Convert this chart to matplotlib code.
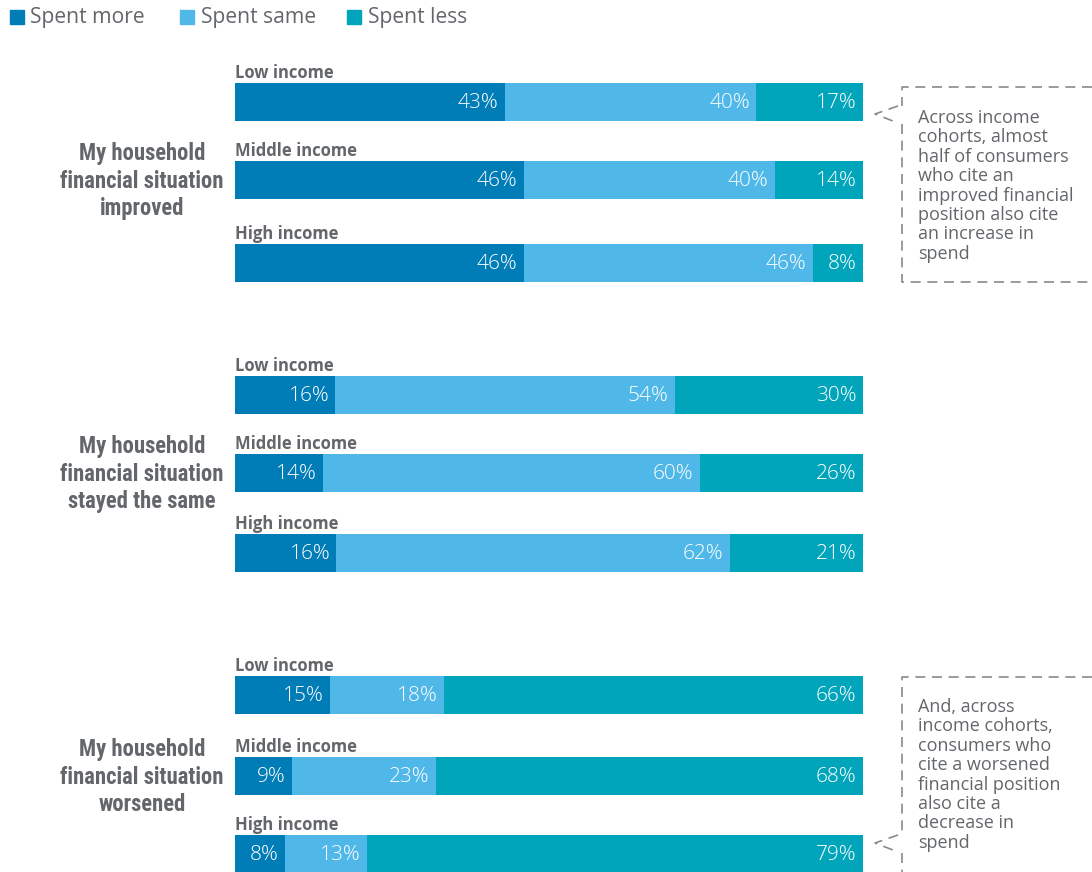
import matplotlib
matplotlib.use("Agg")
from matplotlib import pyplot as plt
from matplotlib.lines import Line2D
from matplotlib import font_manager
from matplotlib.font_manager import FontProperties

# data
groups = ["My household\nfinancial situation\nimproved",
          "My household\nfinancial situation\nstayed the same",
          "My household\nfinancial situation\nworsened"]
incomes = ["Low income", "Middle income", "High income"]
series = ["Spent more", "Spent same", "Spent less"]
spent_more = [43, 46, 46, 16, 14, 16, 15, 9, 8]
spent_same = [40, 40, 46, 54, 60, 62, 18, 23, 13]
spent_less = [17, 14, 8, 30, 26, 21, 66, 68, 79]
notes = ["Across income\ncohorts, almost\nhalf of consumers\nwho cite an\nimproved financial\nposition also cite\nan increase in\nspend",
         "And, across\nincome cohorts,\nconsumers who\ncite a worsened\nfinancial position\nalso cite a\ndecrease in\nspend"]

colors = ["#007cb7", "#4fb8e8", "#00a5bb"]
gray = "#63666a"

plt.rcParams['font.family'] = ['Open Sans', 'DejaVu Sans']

# look for a bold condensed face for the group labels
cond_fp = None
cands = []
for f in font_manager.fontManager.ttflist:
    fn = f.fname.lower()
    if ("condensed" in fn or "narrow" in fn) and "bold" in fn and "extra" not in fn \
            and "semi" not in fn and "italic" not in fn and "oblique" not in fn:
        cands.append(f.fname)
for pref in ["opensans", "roboto", "notosans", "liberation", "dejavu"]:
    for c in cands:
        if pref in c.lower().replace("-", "").replace("_", ""):
            cond_fp = c
            break
    if cond_fp:
        break
if cond_fp is None and cands:
    cond_fp = cands[0]

W, H = 1092, 872
fig = plt.figure(figsize=(W / 100, H / 100), dpi=100)

def fx(x):
    return x / W

def fy(y):
    return 1 - y / H

# axes spans bar area horizontally, full height in pixel rows
ax = fig.add_axes([fx(235), 0, 628 / W, 1])
ax.set_xlim(0, 100)
ax.set_ylim(H, 0)
ax.axis("off")

# row centres in pixels (3 groups x 3 incomes)
row_y = [102, 180, 263, 395, 473, 553, 695, 776, 854]
bar_h = 38

for i in range(9):
    vals = [spent_more[i], spent_same[i], spent_less[i]]
    tot = sum(vals)
    left = 0
    for j, v in enumerate(vals):
        w = v / tot * 100
        ax.barh(row_y[i], w, left=left, height=bar_h, color=colors[j], linewidth=0)
        ax.text(left + w - 1.0, row_y[i] + 1, f"{v}%", ha="right", va="center",
                color="white", fontsize=15, fontweight="light")
        left += w
    ax.text(0, row_y[i] - bar_h / 2 - 10, incomes[i % 3], ha="left", va="center",
            color=gray, fontsize=12, fontweight="bold")

# group labels
for g in range(3):
    yc = row_y[g * 3 + 1] + 1
    if cond_fp:
        fp = FontProperties(fname=cond_fp, size=16.3)
    else:
        fp = FontProperties(family=['Open Sans', 'DejaVu Sans'], weight="bold", size=13)
    fig.text(fx(142), fy(yc), groups[g], ha="center", va="center", color=gray,
             fontproperties=fp, linespacing=1.25)

# legend
for j, s in enumerate(series):
    lx = [10, 180, 347][j]
    fig.patches.append(plt.Rectangle((fx(lx), fy(24)), 14 / W, 14 / H,
                                     transform=fig.transFigure, color=colors[j]))
    fig.text(fx(lx + 20.5), fy(17), s, ha="left", va="center", color=gray, fontsize=15.2)

# callouts
def callout(top, bottom, tip_y, text, text_top):
    dash = dict(color="#8a8a8a", lw=1.2, linestyle=(0, (6, 4)), transform=fig.transFigure)
    fig.lines.append(Line2D([fx(W), fx(902), fx(902)], [fy(top), fy(top), fy(tip_y - 8)], **dash))
    fig.lines.append(Line2D([fx(902), fx(902), fx(W)], [fy(tip_y + 10), fy(bottom), fy(bottom)], **dash))
    fig.lines.append(Line2D([fx(898), fx(875), fx(898)], [fy(tip_y - 8), fy(tip_y), fy(tip_y + 9)], **dash))
    fig.text(fx(918), fy(text_top), text, ha="left", va="top", color=gray,
             fontsize=13, linespacing=1.1)

callout(87, 282, 114, notes[0], 109)
callout(677, 874, 843, notes[1], 698)

fig.savefig("out.png", dpi=100)
